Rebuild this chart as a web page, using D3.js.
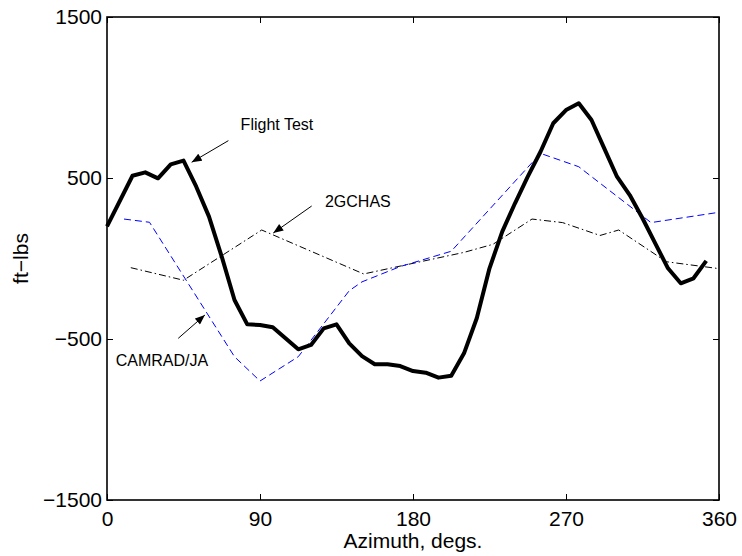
<!DOCTYPE html>
<html>
<head>
<meta charset="utf-8">
<script src="https://cdn.jsdelivr.net/npm/d3@7"></script>
<style>
  html, body { margin: 0; padding: 0; background: #fff; }
  svg { display: block; }
  text { font-family: "Liberation Sans", Arial, Helvetica, sans-serif; fill: #000; }
</style>
</head>
<body>
<svg id="chart" width="742" height="556"></svg>
<script>
// Azimuth ticks and load ticks
const xTicks = [0, 90, 180, 270, 360];
const yTicks = [1500, 500, -500, -1500];

// Flight test measurement
const azFlight = [0, 15, 22.5, 30, 37.5, 45, 52.5, 60, 67.5, 75, 82.5, 90, 97.5, 105, 112.5, 120,
  127.5, 135, 142.5, 150, 157.5, 165, 172.5, 180, 187.5, 195, 202.5, 210, 217.5, 225, 232.5,
  240, 247.5, 255, 262.5, 270, 277.5, 285, 292.5, 300, 307.5, 315, 322.5, 330, 337.5, 345, 352.5];
const flightTest = [200, 514, 535, 498, 585, 608, 446, 260, 11, -258, -409, -413, -427, -496, -564, -537,
  -434, -409, -527, -606, -657, -657, -668, -699, -709, -740, -728, -589, -371, -61, 167,
  343, 508, 663, 840, 922, 964, 860, 684, 508, 394, 250, 94, -61, -154, -123, -15];

// CAMRAD/JA prediction
const azCamrad = [10, 25, 75, 90, 112.5, 142.5, 150, 172.5, 202.5, 255, 277.5, 320, 360];
const camrad = [245, 225, -610, -761, -610, -200, -145, -50, 45, 653, 570, 223, 287];

// 2GCHAS prediction
const az2gchas = [14, 45, 91, 151, 180, 210, 227, 250, 268, 290, 301, 329, 360];
const gchas = [-57, -135, 177, -96, -30, 38, 88, 245, 223, 143, 177, -20, -63];

// Annotation labels with arrow tail/tip (azimuth, ft-lbs)
const labels = [
  { text: "Flight Test", at: [78.6, 798], tail: [71.4, 732], tip: [49.8, 598] },
  { text: "2GCHAS",      at: [128.2, 320], tail: [120.4, 326], tip: [97.8, 158] },
  { text: "CAMRAD/JA",   at: [5.1, -668],  tail: [41.9, -496], tip: [57.6, -351] }
];

const margin = { left: 107, top: 17 };
const width = 612, height = 483;

const svg = d3.select("#chart");
const g = svg.append("g").attr("transform", `translate(${margin.left},${margin.top})`);

const x = d3.scaleLinear().domain([0, 360]).range([0, width]);
const y = d3.scaleLinear().domain([-1500, 1500]).range([height, 0]);

const fmt = d => (d < 0 ? "\u2212" + Math.abs(d) : String(d));

// Axes with inward ticks on all four sides
const axisFont = 21;
const xAxis = g.append("g").attr("transform", `translate(0,${height})`)
  .call(d3.axisBottom(x).tickValues(xTicks).tickSizeInner(-6).tickSizeOuter(0).tickPadding(11).tickFormat(fmt));
const yAxis = g.append("g")
  .call(d3.axisLeft(y).tickValues(yTicks).tickSizeInner(-6).tickSizeOuter(0).tickPadding(5).tickFormat(fmt));
g.append("g")
  .call(d3.axisTop(x).tickValues(xTicks).tickSizeInner(-6).tickSizeOuter(0).tickFormat(""));
g.append("g").attr("transform", `translate(${width},0)`)
  .call(d3.axisRight(y).tickValues(yTicks).tickSizeInner(-6).tickSizeOuter(0).tickFormat(""));

g.selectAll(".domain").remove();
g.selectAll(".tick line").attr("stroke", "#000").attr("stroke-width", 1);
[xAxis, yAxis].forEach(a => a.selectAll("text")
  .style("font-size", axisFont + "px")
  .style("font-family", '"Liberation Sans", Arial, Helvetica, sans-serif')
  .attr("fill", "#000"));

// Plot box
g.append("rect").attr("x", 0).attr("y", 0).attr("width", width).attr("height", height)
  .attr("fill", "none").attr("stroke", "#000").attr("stroke-width", 1.6);

// Axis titles
svg.append("text")
  .attr("x", margin.left + width / 2).attr("y", 548)
  .attr("text-anchor", "middle").style("font-size", axisFont + "px")
  .text("Azimuth, degs.");
svg.append("text")
  .attr("transform", `translate(28,${margin.top + height / 2}) rotate(-90)`)
  .attr("text-anchor", "middle").style("font-size", axisFont + "px")
  .text("ft\u2212lbs");

const line = d3.line().x(d => x(d[0])).y(d => y(d[1]));
const zip = (a, b) => a.map((v, i) => [v, b[i]]);

// Predictions
g.append("path").datum(zip(az2gchas, gchas))
  .attr("d", line).attr("fill", "none").attr("stroke", "#000").attr("stroke-width", 1)
  .attr("stroke-dasharray", "7,3,1.5,3");
g.append("path").datum(zip(azCamrad, camrad))
  .attr("d", line).attr("fill", "none").attr("stroke", "#0000ff").attr("stroke-width", 1)
  .attr("stroke-dasharray", "7,4");

// Flight test
g.append("path").datum(zip(azFlight, flightTest))
  .attr("d", line).attr("fill", "none").attr("stroke", "#000").attr("stroke-width", 4)
  .attr("stroke-linejoin", "round");

// Arrowhead marker
svg.append("defs").append("marker")
  .attr("id", "arrow").attr("viewBox", "0 0 10 8")
  .attr("refX", 10).attr("refY", 4)
  .attr("markerUnits", "userSpaceOnUse")
  .attr("markerWidth", 11).attr("markerHeight", 8)
  .attr("orient", "auto")
  .append("path").attr("d", "M0,0 L10,4 L0,8 Z").attr("fill", "#000");

const ann = g.append("g");
labels.forEach(l => {
  ann.append("line")
    .attr("x1", x(l.tail[0])).attr("y1", y(l.tail[1]))
    .attr("x2", x(l.tip[0])).attr("y2", y(l.tip[1]))
    .attr("stroke", "#000").attr("stroke-width", 1)
    .attr("marker-end", "url(#arrow)");
  ann.append("text")
    .attr("x", x(l.at[0])).attr("y", y(l.at[1]))
    .style("font-size", "16px")
    .text(l.text);
});
</script>
</body>
</html>
